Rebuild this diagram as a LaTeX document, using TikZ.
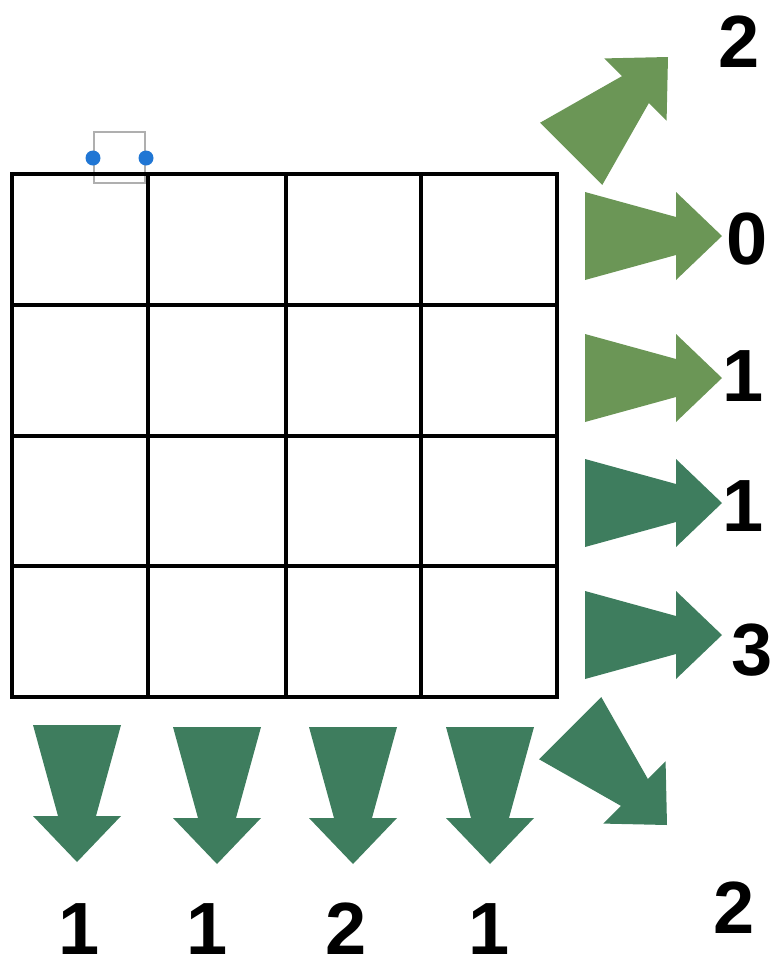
\documentclass[tikz,border=0pt]{standalone}
\usepackage{fontspec}
\setmainfont{Liberation Sans}
\definecolor{lightgreen}{RGB}{107,150,86}
\definecolor{darkgreen}{RGB}{62,125,94}
\definecolor{handleblue}{RGB}{32,118,212}
\definecolor{handlegray}{RGB}{175,175,175}
\tikzset{
  pics/fatarrow/.style={code={
    \fill[#1] (-137,44) -- (-46,19) -- (-46,44) -- (0,0) -- (-46,-44) -- (-46,-19) -- (-137,-44) -- cycle;
  }},
  gridline/.style={line width=3.4pt, black},
  digit/.style={inner sep=0pt, font=\fontsize{74}{74}\selectfont\bfseries},
  handle/.style={circle, fill=handleblue, inner sep=0pt, minimum size=15pt},
}
\begin{document}
\begin{tikzpicture}[x=1pt,y=-1pt]
\useasboundingbox (0,0) rectangle (774,962);
% selection frame behind the grid
\draw[handlegray, line width=1.5pt] (94,132) rectangle (145,183);
% grid
\draw[gridline] (12,174) rectangle (557,697);
\foreach \x in {148,286,421} \draw[gridline] (\x,174) -- (\x,697);
\foreach \y in {305,436,566} \draw[gridline] (12,\y) -- (557,\y);
% handles
\node[handle] (h1) at (93,158) {};
\node[handle] (h2) at (146,158) {};
% arrows on the right
\pic[rotate=45] at (668,57) {fatarrow=lightgreen};
\pic at (722,236) {fatarrow=lightgreen};
\pic at (722,378) {fatarrow=lightgreen};
\pic at (722,503) {fatarrow=darkgreen};
\pic at (722,635) {fatarrow=darkgreen};
\pic[rotate=-45] at (667,825) {fatarrow=darkgreen};
% arrows at the bottom
\pic[rotate=-90] at (77,862) {fatarrow=darkgreen};
\pic[rotate=-90] at (217,864) {fatarrow=darkgreen};
\pic[rotate=-90] at (353,864) {fatarrow=darkgreen};
\pic[rotate=-90] at (490,864) {fatarrow=darkgreen};
% labels
\node[digit] (t2) at (739,42) {2};
\node[digit] (r0) at (747,239) {0};
\node[digit] (r1) at (743,376) {1};
\node[digit] (r2) at (743,506) {1};
\node[digit] (r3) at (752,650) {3};
\node[digit] (br2) at (734,908) {2};
\node[digit] (b1) at (79,929) {1};
\node[digit] (b2) at (207,929) {1};
\node[digit] (b3) at (346,929) {2};
\node[digit] (b4) at (489,929) {1};
\end{tikzpicture}
\end{document}
